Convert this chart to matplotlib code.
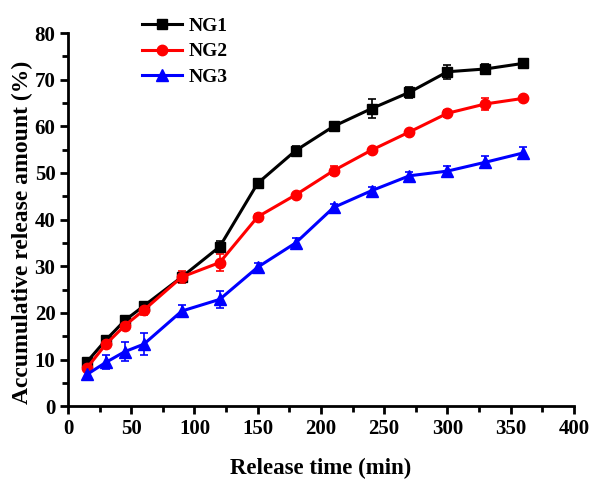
import matplotlib
matplotlib.use('Agg')
import matplotlib.pyplot as plt
from matplotlib.lines import Line2D
from matplotlib.ticker import MultipleLocator

# release time points (min)
time_min = [15, 30, 45, 60, 90, 120, 150, 180, 210, 240, 270, 300, 330, 360]

ng1 = [9.5, 14.2, 18.4, 21.5, 27.7, 34.2, 47.8, 54.8, 60.0, 63.8, 67.3, 71.7, 72.3, 73.5]
ng1_err = [0.5, 0.5, 0.6, 0.6, 0.8, 1.2, 0.6, 1.0, 0.8, 2.0, 1.2, 1.5, 1.0, 0.6]

ng2 = [8.2, 13.3, 17.3, 20.6, 27.7, 30.8, 40.6, 45.3, 50.5, 54.9, 58.8, 62.8, 64.8, 66.0]
ng2_err = [0.5, 0.8, 0.8, 1.0, 1.2, 1.8, 0.5, 0.5, 0.9, 0.5, 0.5, 0.8, 1.2, 0.5]

ng3 = [6.8, 9.4, 11.7, 13.3, 20.4, 22.9, 29.8, 35.0, 42.6, 46.2, 49.4, 50.4, 52.3, 54.3]
ng3_err = [1.0, 1.5, 2.0, 2.4, 1.2, 1.8, 1.0, 1.0, 0.8, 0.8, 0.9, 1.0, 1.3, 1.3]

plt.rcParams['font.family'] = ['Liberation Serif', 'DejaVu Serif']
plt.rcParams['font.weight'] = 'bold'

fig = plt.figure(figsize=(5.91, 4.79), dpi=100)
ax = fig.add_axes([0.115, 0.152, 0.856, 0.779])

series = [
    ('NG1', ng1, ng1_err, 'black', 's', 7),
    ('NG2', ng2, ng2_err, 'red', 'o', 7.5),
    ('NG3', ng3, ng3_err, 'blue', '^', 8),
]
handles = []
for name, vals, err, col, mk, ms in series:
    ax.errorbar(time_min, vals, yerr=err, color=col, marker=mk, markersize=ms,
                linewidth=2.2, elinewidth=1.2, capsize=3, capthick=1.2)
    handles.append(Line2D([], [], color=col, marker=mk, markersize=ms,
                          linewidth=2.2, label=name))

ax.set_xlim(0, 400)
ax.set_ylim(0, 80)
ax.xaxis.set_major_locator(MultipleLocator(50))
ax.xaxis.set_minor_locator(MultipleLocator(25))
ax.yaxis.set_major_locator(MultipleLocator(10))
ax.yaxis.set_minor_locator(MultipleLocator(5))

for side in ('top', 'right'):
    ax.spines[side].set_visible(False)
for side in ('left', 'bottom'):
    ax.spines[side].set_linewidth(2)

ax.tick_params(which='major', direction='out', length=6, width=2, labelsize=15, pad=3)
ax.tick_params(which='minor', direction='out', length=4, width=2)
for lbl in ax.get_xticklabels() + ax.get_yticklabels():
    lbl.set_fontweight('bold')

ax.set_xlabel('Release time (min)', fontsize=16.5, fontweight='bold', labelpad=14)
ax.set_ylabel('Accumulative release amount (%)', fontsize=17, fontweight='bold')
ax.yaxis.set_label_coords(-0.069, 0.465)

ax.legend(handles=handles, loc='upper left', bbox_to_anchor=(0.13, 1.063), frameon=False,
          prop={'weight': 'bold', 'size': 14}, handlelength=2.1, handletextpad=0.3,
          labelspacing=0.4, borderaxespad=0)

fig.savefig('out.png', dpi=100)
